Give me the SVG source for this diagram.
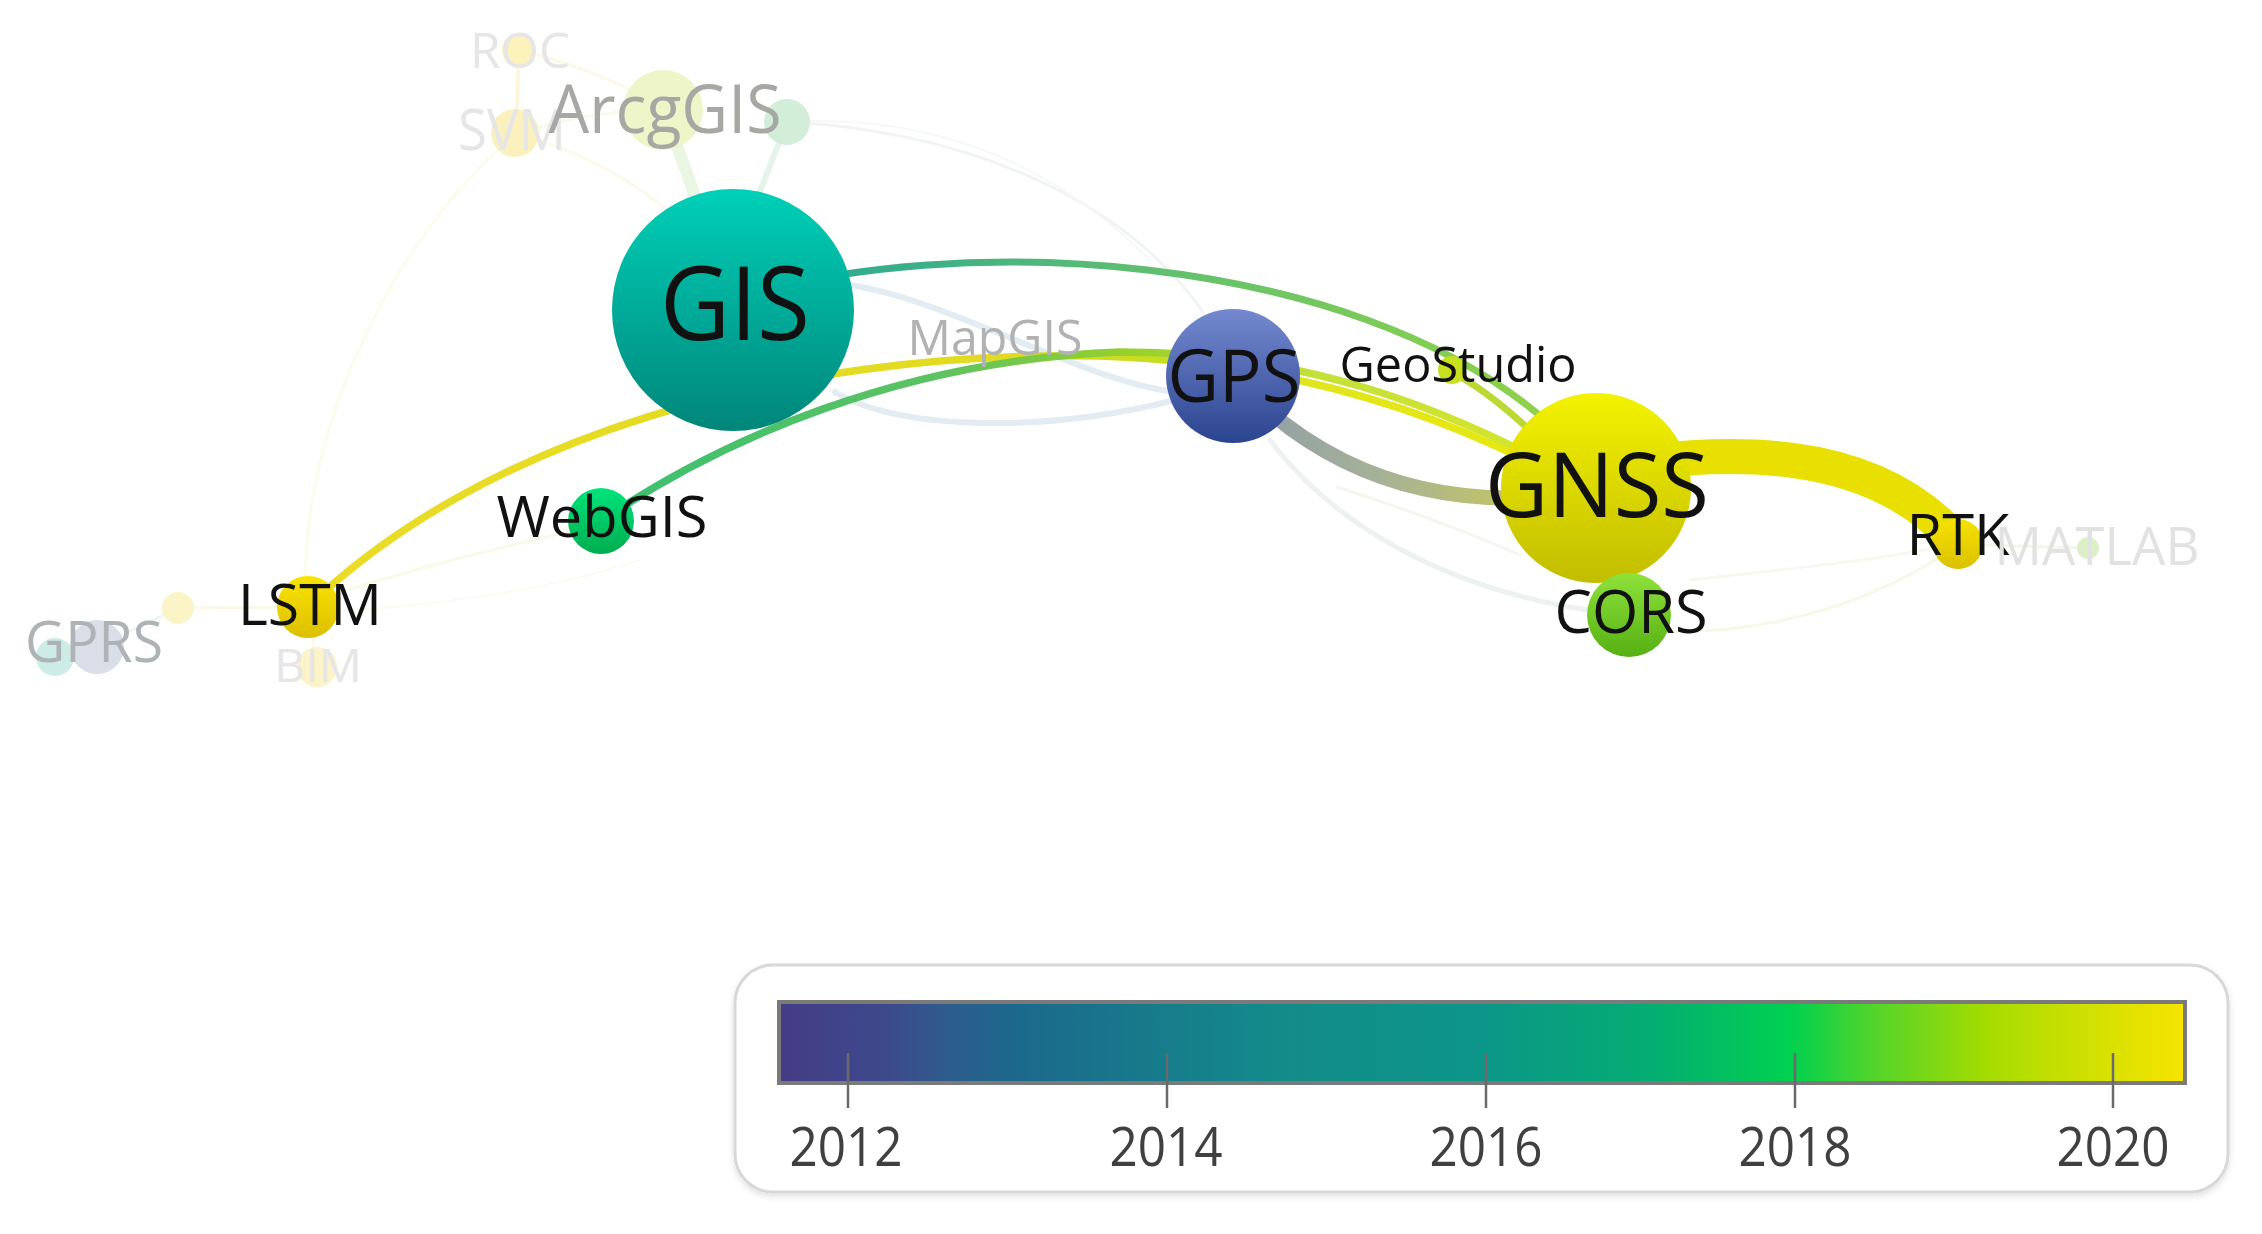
<svg xmlns="http://www.w3.org/2000/svg" width="2262" height="1234" viewBox="0 0 2262 1234">
<style>
text{font-family:"Open Sans","Noto Sans","Liberation Sans",sans-serif;text-anchor:middle}
.lbl{fill:#111}
.faintlbl{fill:#e6e6e6}
.edge{fill:none;stroke-linecap:round}
.fe{fill:none;stroke-linecap:round}
.yr{font-size:54px;fill:#404040}
.tick{stroke:#6a6a6a;stroke-width:2.5}
</style>
<defs>
<linearGradient id="gGIS" x1="0" y1="0" x2="0" y2="1"><stop offset="0" stop-color="#00d0b8"/><stop offset="1" stop-color="#00867a"/></linearGradient>
<linearGradient id="gGPS" x1="0" y1="0" x2="0" y2="1"><stop offset="0" stop-color="#7489cf"/><stop offset="1" stop-color="#2b448f"/></linearGradient>
<linearGradient id="gGNSS" x1="0" y1="0" x2="0" y2="1"><stop offset="0" stop-color="#f4f200"/><stop offset="1" stop-color="#c2bd00"/></linearGradient>
<linearGradient id="gCORS" x1="0" y1="0" x2="0" y2="1"><stop offset="0" stop-color="#8ee23a"/><stop offset="1" stop-color="#56b014"/></linearGradient>
<linearGradient id="gRTK" x1="0" y1="0" x2="0" y2="1"><stop offset="0" stop-color="#f8e200"/><stop offset="1" stop-color="#dac000"/></linearGradient>
<linearGradient id="gWEB" x1="0" y1="0" x2="0" y2="1"><stop offset="0" stop-color="#00e47c"/><stop offset="1" stop-color="#00ad50"/></linearGradient>
<linearGradient id="gLSTM" x1="0" y1="0" x2="0" y2="1"><stop offset="0" stop-color="#fae400"/><stop offset="1" stop-color="#dcbf00"/></linearGradient>
<linearGradient id="eGG" gradientUnits="userSpaceOnUse" x1="850" y1="0" x2="1545" y2="0"><stop offset="0" stop-color="#33ab8f"/><stop offset="0.5" stop-color="#66c26a"/><stop offset="1" stop-color="#8fd24a"/></linearGradient>
<linearGradient id="eLS" gradientUnits="userSpaceOnUse" x1="308" y1="0" x2="1560" y2="0"><stop offset="0" stop-color="#eadc26"/><stop offset="0.55" stop-color="#e2da22"/><stop offset="0.68" stop-color="#c6dc22"/><stop offset="0.8" stop-color="#e0e61c"/><stop offset="1" stop-color="#e8e810"/></linearGradient>
<linearGradient id="eWB" gradientUnits="userSpaceOnUse" x1="601" y1="0" x2="1555" y2="0"><stop offset="0" stop-color="#3cc070"/><stop offset="0.35" stop-color="#5cc262"/><stop offset="0.55" stop-color="#96d02c"/><stop offset="0.75" stop-color="#c4e03a"/><stop offset="1" stop-color="#d6e62a"/></linearGradient>
<linearGradient id="eGP" gradientUnits="userSpaceOnUse" x1="1250" y1="0" x2="1510" y2="0"><stop offset="0" stop-color="#909ea8"/><stop offset="0.5" stop-color="#a6b296"/><stop offset="1" stop-color="#c2c468"/></linearGradient>
<linearGradient id="cbar" x1="0" y1="0" x2="1" y2="0">
<stop offset="0" stop-color="#443c86"/>
<stop offset="0.08" stop-color="#3c4a8c"/>
<stop offset="0.12" stop-color="#2e5c8d"/>
<stop offset="0.17" stop-color="#1b698c"/>
<stop offset="0.35" stop-color="#138a8a"/>
<stop offset="0.5" stop-color="#0c9688"/>
<stop offset="0.62" stop-color="#04ad72"/>
<stop offset="0.72" stop-color="#00d150"/>
<stop offset="0.78" stop-color="#55d42a"/>
<stop offset="0.86" stop-color="#a6dc00"/>
<stop offset="1" stop-color="#f8e400"/>
</linearGradient>
<filter id="sh" x="-5%" y="-10%" width="110%" height="125%"><feDropShadow dx="0" dy="3" stdDeviation="3" flood-color="#000" flood-opacity="0.12"/></filter>
</defs>
<rect width="2262" height="1234" fill="#ffffff"/>

<g id="connectors">
  <!-- faint links -->
  <path class="fe" d="M519 50 L516 134" stroke="#fcf7dc" stroke-width="4"/>
  <path class="fe" d="M519 50 Q600 70 664 108" stroke="#fcf9e6" stroke-width="3"/>
  <path class="fe" d="M516 134 Q590 110 664 110" stroke="#fafaea" stroke-width="3"/>
  <path class="fe" d="M664 110 L718 260" stroke="#eaf5e2" stroke-width="12"/>
  <path class="fe" d="M787 122 L745 230" stroke="#e4f4ea" stroke-width="6"/>
  <path class="fe" d="M516 134 Q620 160 700 240" stroke="#fcfae8" stroke-width="3"/>
  <path class="fe" d="M516 134 C400 230 300 420 305 600" stroke="#fdfcec" stroke-width="3"/>
  <path class="fe" d="M787 122 C950 130 1120 190 1205 315" stroke="#f1f5f1" stroke-width="3"/>
  <path class="fe" d="M787 122 Q1000 110 1150 260" stroke="#f6f8f6" stroke-width="2"/>
  <path class="fe" d="M850 285 C950 300 1080 380 1175 392" stroke="#e3ecf3" stroke-width="6"/>
  <path class="fe" d="M835 392 C900 432 1050 432 1175 400" stroke="#e3ecf3" stroke-width="6"/>
  <path class="fe" d="M330 595 Q460 555 580 530" stroke="#fafaea" stroke-width="3"/>
  <path class="fe" d="M330 612 Q520 600 640 560" stroke="#fbfbf0" stroke-width="2"/>
  <path class="fe" d="M178 608 L300 607" stroke="#fbf8e6" stroke-width="3"/>
  <path class="fe" d="M97 647 L178 608" stroke="#f2f4f4" stroke-width="3"/>
  <path class="fe" d="M317 667 L308 607" stroke="#fcf9e4" stroke-width="3"/>
  <path class="fe" d="M1270 440 C1330 520 1440 590 1600 612" stroke="#edf2ee" stroke-width="5"/>
  <path class="fe" d="M1337 487 Q1440 520 1520 555" stroke="#f4f6f0" stroke-width="3"/>
  <path class="fe" d="M1670 632 C1780 632 1880 600 1958 545" stroke="#f7f9e8" stroke-width="3"/>
  <path class="fe" d="M1690 580 C1780 570 1880 560 1950 545" stroke="#f8f9ee" stroke-width="3"/>
  <path class="fe" d="M1983 545 L2088 548" stroke="#f2f7ec" stroke-width="3"/>
  <!-- main links -->
  <path class="edge" d="M1596 468 C1720 450 1870 440 1958 543" stroke="#e9df00" stroke-width="35"/>
  <path class="edge" d="M1233 376 C1290 440 1380 498 1510 498" stroke="url(#eGP)" stroke-width="15"/>
  <path class="edge" d="M308 607 C480 440 780 350 1100 356 C1300 362 1450 418 1560 478" stroke="url(#eLS)" stroke-width="7.5"/>
  <path class="edge" d="M601 521 C720 440 900 360 1120 352 C1300 352 1440 406 1555 468" stroke="url(#eWB)" stroke-width="7.5"/>
  <path class="edge" d="M733 300 C950 230 1350 250 1545 420" stroke="url(#eGG)" stroke-width="7"/>
  <path class="edge" d="M1452 372 Q1495 395 1545 445" stroke="#bcd834" stroke-width="7"/>
</g>

<g id="node-ROC"><circle cx="519" cy="50" r="17" fill="#fcf2bc"/><text x="520" y="68" font-size="50" class="faintlbl" textLength="100" lengthAdjust="spacingAndGlyphs">ROC</text></g>
<g id="node-SVM"><circle cx="515" cy="133" r="24" fill="#fbf1bf"/><text x="512" y="150" font-size="56" class="faintlbl" textLength="108" lengthAdjust="spacingAndGlyphs">SVM</text></g>
<g id="node-green-top"><circle cx="787" cy="122" r="23" fill="#d3eed8"/></g>
<g id="node-ArcgGIS"><circle cx="663" cy="110" r="40" fill="#eef5c9"/><text x="665" y="133" font-size="67" fill="#a6a8a4" textLength="233" lengthAdjust="spacingAndGlyphs">ArcgGIS</text></g>
<g id="node-dot-left"><circle cx="178" cy="608" r="16" fill="#fbf4c6"/></g>
<g id="node-teal-left"><circle cx="55" cy="657" r="19" fill="#cdece6"/></g>
<g id="node-GPRS"><circle cx="97" cy="647" r="27" fill="#d9dee8"/><text x="94" y="662" font-size="56" fill="#aeb4b6" textLength="138" lengthAdjust="spacingAndGlyphs">GPRS</text></g>
<g id="node-BIM"><circle cx="317" cy="667" r="20" fill="#fcf4c8"/><text x="318" y="682" font-size="46" class="faintlbl" textLength="88" lengthAdjust="spacingAndGlyphs">BIM</text></g>
<g id="node-LSTM"><circle cx="308" cy="607" r="31" fill="url(#gLSTM)"/><text x="310" y="625" font-size="56" class="lbl" textLength="144" lengthAdjust="spacingAndGlyphs">LSTM</text></g>
<g id="node-WebGIS"><circle cx="601" cy="521" r="33" fill="url(#gWEB)"/><text x="602" y="537" font-size="56" class="lbl" textLength="211" lengthAdjust="spacingAndGlyphs">WebGIS</text></g>
<g id="node-GIS"><circle cx="733" cy="310" r="121" fill="url(#gGIS)"/><text x="735" y="340" font-size="102" class="lbl" textLength="150" lengthAdjust="spacingAndGlyphs">GIS</text></g>
<g id="node-MapGIS"><text x="995" y="355" font-size="49" fill="#b2b2b2" textLength="175" lengthAdjust="spacingAndGlyphs">MapGIS</text></g>
<g id="node-GPS"><circle cx="1233" cy="376" r="67" fill="url(#gGPS)"/><text x="1234" y="402" font-size="73" class="lbl" textLength="133" lengthAdjust="spacingAndGlyphs">GPS</text></g>
<g id="node-GeoStudio"><circle cx="1452" cy="370" r="14" fill="#c8e020"/><text x="1458" y="382" font-size="49" class="lbl" textLength="237" lengthAdjust="spacingAndGlyphs">GeoStudio</text></g>
<g id="node-GNSS"><circle cx="1596" cy="488" r="95" fill="url(#gGNSS)"/><text x="1597" y="517" font-size="89" class="lbl" textLength="224" lengthAdjust="spacingAndGlyphs">GNSS</text></g>
<g id="node-CORS"><circle cx="1629" cy="615" r="42" fill="url(#gCORS)"/><text x="1631" y="633" font-size="61" class="lbl" textLength="153" lengthAdjust="spacingAndGlyphs">CORS</text></g>
<g id="node-RTK"><circle cx="1958" cy="544" r="25" fill="url(#gRTK)"/><text x="1958" y="555" font-size="56" class="lbl" textLength="103" lengthAdjust="spacingAndGlyphs">RTK</text></g>
<g id="node-MATLAB"><circle cx="2088" cy="548" r="11" fill="#ddefc6"/><text x="2097" y="565" font-size="53" fill="#e2e2e2" textLength="205" lengthAdjust="spacingAndGlyphs">MATLAB</text></g>

<g id="legend">
  <rect x="735" y="965" width="1493" height="227" rx="38" fill="#ffffff" stroke="#d8d8d8" stroke-width="3" filter="url(#sh)"/>
  <rect x="779" y="1002" width="1406" height="81" fill="url(#cbar)" stroke="#7a7a7a" stroke-width="4"/>
  <line class="tick" x1="848" y1="1053" x2="848" y2="1108"/>
  <line class="tick" x1="1167" y1="1053" x2="1167" y2="1108"/>
  <line class="tick" x1="1486" y1="1053" x2="1486" y2="1108"/>
  <line class="tick" x1="1795" y1="1053" x2="1795" y2="1108"/>
  <line class="tick" x1="2113" y1="1053" x2="2113" y2="1108"/>
  <text class="yr" x="846" y="1166" textLength="113" lengthAdjust="spacingAndGlyphs">2012</text>
  <text class="yr" x="1166" y="1166" textLength="113" lengthAdjust="spacingAndGlyphs">2014</text>
  <text class="yr" x="1486" y="1166" textLength="113" lengthAdjust="spacingAndGlyphs">2016</text>
  <text class="yr" x="1795" y="1166" textLength="113" lengthAdjust="spacingAndGlyphs">2018</text>
  <text class="yr" x="2113" y="1166" textLength="113" lengthAdjust="spacingAndGlyphs">2020</text>
</g>
</svg>
